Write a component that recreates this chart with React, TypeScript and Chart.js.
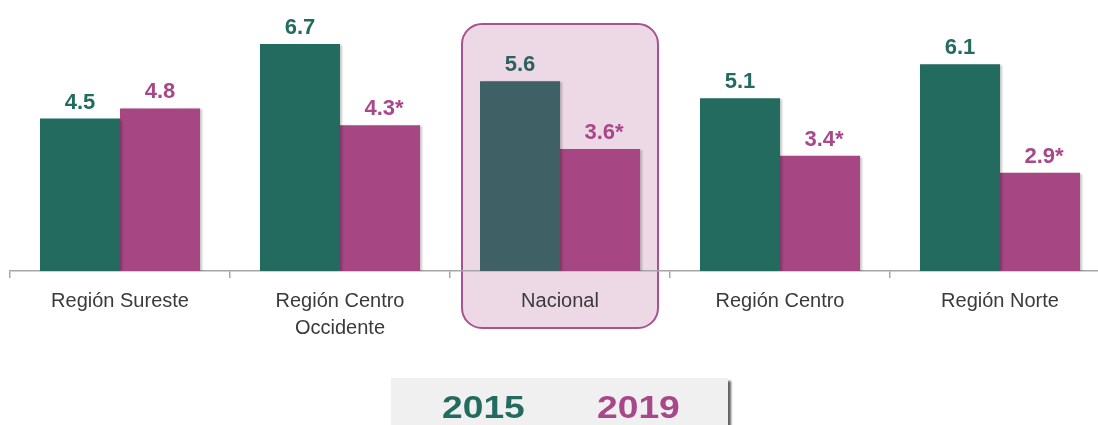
import React, { useEffect, useRef } from "react";
import { Chart, registerables } from "chart.js";

Chart.register(...registerables);

const categories: (string | string[])[] = [
  "Región Sureste",
  ["Región Centro", "Occidente"],
  "Nacional",
  "Región Centro",
  "Región Norte",
];
const values2015 = [4.5, 6.7, 5.6, 5.1, 6.1];
const values2019 = [4.8, 4.3, 3.6, 3.4, 2.9];
const significant2019 = [false, true, true, true, true];
const seriesNames = ["2015", "2019"];
const highlightIndex = 2;

const TEAL = "#236B5F";
const TEAL_HL = "#3F6166";
const MAGENTA = "#A64682";
const TEAL_TEXT = "#236B5E";
const MAGENTA_TEXT = "#A8478A";

const highlightPlugin = {
  id: "highlightBox",
  beforeDraw(chart: any) {
    const x = chart.scales.x;
    const cx = x.getPixelForValue(highlightIndex);
    const ctx = chart.ctx;
    const left = cx - 98;
    const right = cx + 98;
    const top = 24;
    const bottom = 328;
    const r = 20;
    ctx.save();
    ctx.beginPath();
    ctx.moveTo(left + r, top);
    ctx.lineTo(right - r, top);
    ctx.arcTo(right, top, right, top + r, r);
    ctx.lineTo(right, bottom - r);
    ctx.arcTo(right, bottom, right - r, bottom, r);
    ctx.lineTo(left + r, bottom);
    ctx.arcTo(left, bottom, left, bottom - r, r);
    ctx.lineTo(left, top + r);
    ctx.arcTo(left, top, left + r, top, r);
    ctx.closePath();
    ctx.fillStyle = "#EDD8E6";
    ctx.fill();
    ctx.lineWidth = 2;
    ctx.strokeStyle = "#A9528F";
    ctx.stroke();
    ctx.restore();
  },
};

const shadowPlugin = {
  id: "barShadow",
  beforeDatasetsDraw(chart: any) {
    const ctx = chart.ctx;
    ctx.save();
    ctx.shadowColor = "rgba(0,0,0,0.22)";
    ctx.shadowOffsetX = 2;
    ctx.shadowOffsetY = 1;
    ctx.shadowBlur = 2;
  },
  afterDatasetsDraw(chart: any) {
    chart.ctx.restore();
  },
};

const labelPlugin = {
  id: "valueLabels",
  afterDatasetsDraw(chart: any) {
    const ctx = chart.ctx;
    ctx.save();
    ctx.font = "bold 22px 'Liberation Sans', Arial, sans-serif";
    ctx.textAlign = "center";
    ctx.textBaseline = "alphabetic";
    chart.data.datasets.forEach((ds: any, di: number) => {
      const meta = chart.getDatasetMeta(di);
      meta.data.forEach((bar: any, i: number) => {
        const v = ds.data[i];
        let text = v.toFixed(1);
        if (di === 1 && significant2019[i]) text += "*";
        let color = di === 0 ? TEAL_TEXT : MAGENTA_TEXT;
        if (di === 0 && i === highlightIndex) color = "#2F6060";
        ctx.fillStyle = color;
        ctx.fillText(text, bar.x + (text.endsWith("*") ? 4 : 0), bar.y - 10);
      });
    });
    ctx.restore();
  },
};

export default function App() {
  const ref = useRef<HTMLCanvasElement>(null);

  useEffect(() => {
    if (!ref.current) return;
    const chart = new Chart(ref.current, {
      type: "bar",
      data: {
        labels: categories,
        datasets: [
          {
            label: seriesNames[0],
            data: values2015,
            backgroundColor: values2015.map((_, i) => (i === highlightIndex ? TEAL_HL : TEAL)),
            categoryPercentage: 160 / 220,
            barPercentage: 1,
          },
          {
            label: seriesNames[1],
            data: values2019,
            backgroundColor: MAGENTA,
            categoryPercentage: 160 / 220,
            barPercentage: 1,
          },
        ],
      },
      options: {
        responsive: false,
        animation: false,
        layout: { padding: { left: 10, right: 0, top: 0, bottom: 0 } },
        plugins: {
          legend: { display: false },
          tooltip: { enabled: false },
        },
        scales: {
          x: {
            grid: {
              offset: true,
              drawOnChartArea: false,
              drawTicks: true,
              tickLength: 7,
              color: "#A6A6A6",
              lineWidth: 1.5,
            },
            border: { display: true, color: "#A6A6A6", width: 1.5 },
            ticks: {
              color: "#3A3A3A",
              padding: 10,
              font: { family: "'Liberation Sans', Arial, sans-serif", size: 20, lineHeight: 1.35 },
              maxRotation: 0,
              autoSkip: false,
            },
            afterFit(scale: any) {
              scale.height = 154;
            },
          },
          y: {
            display: false,
            min: 0,
            max: 8,
          },
        },
      },
      plugins: [highlightPlugin, shadowPlugin, labelPlugin],
    });
    return () => chart.destroy();
  }, []);

  const legendText: React.CSSProperties = {
    position: "absolute",
    top: 12,
    display: "inline-block",
    transform: "scaleX(1.2)",
    transformOrigin: "left center",
  };

  return (
    <div
      style={{
        position: "fixed",
        left: 0,
        top: 0,
        width: 1098,
        height: 425,
        overflow: "hidden",
        background: "#ffffff",
      }}
    >
      <canvas ref={ref} width={1110} height={425} style={{ display: "block" }} />
      <div
        style={{
          position: "absolute",
          left: 391,
          top: 378,
          width: 337,
          height: 60,
          background: "#F0F0F0",
          boxShadow: "3px 3px 2px rgba(60,60,60,0.8)",
          fontFamily: "'Liberation Sans', Arial, sans-serif",
          fontWeight: "bold",
          fontSize: 31,
          lineHeight: "36px",
        }}
      >
        <span style={{ ...legendText, left: 51, color: TEAL_TEXT }}>{seriesNames[0]}</span>
        <span style={{ ...legendText, left: 206, color: MAGENTA_TEXT }}>{seriesNames[1]}</span>
      </div>
    </div>
  );
}
